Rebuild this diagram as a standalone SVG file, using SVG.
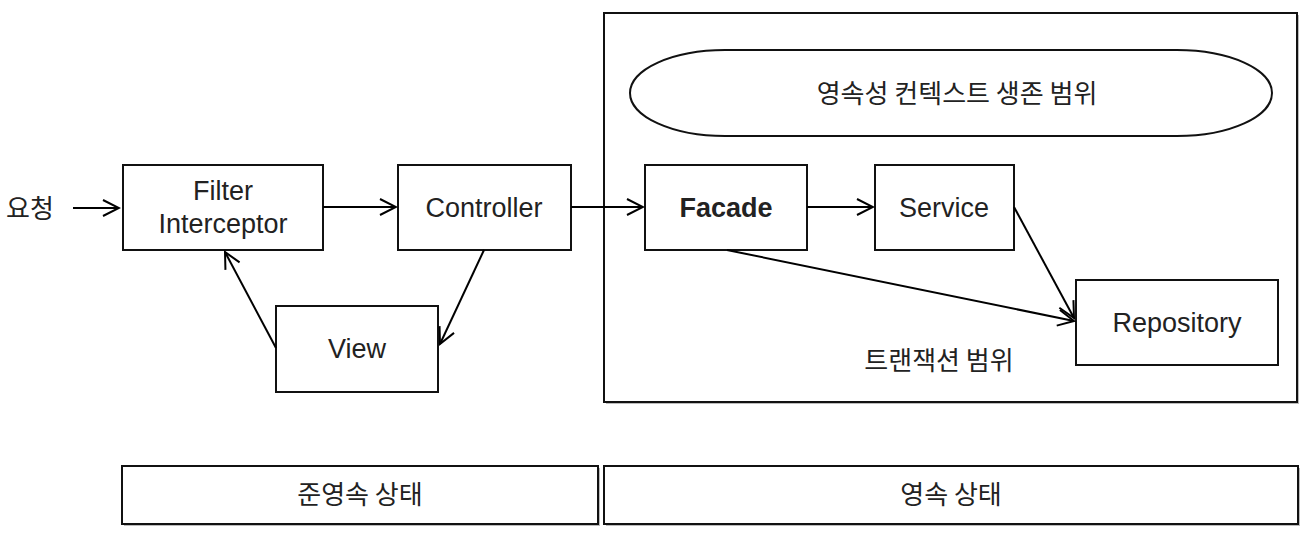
<svg xmlns="http://www.w3.org/2000/svg" width="1308" height="534" viewBox="0 0 1308 534">
<defs>
<marker id="arr" viewBox="0 0 20 20" refX="18" refY="10" markerWidth="20" markerHeight="20" markerUnits="userSpaceOnUse" orient="auto">
<path d="M2,2 L18,10 L2,18" fill="none" stroke="#000" stroke-width="2"/>
</marker>
</defs>
<style>
.box{fill:#fff;stroke:#111;stroke-width:2}
.t{font-family:"Noto Sans CJK KR","Noto Sans",sans-serif;font-size:26px;fill:#222;text-anchor:middle}
.e{font-family:"Liberation Sans",Arial,sans-serif;font-size:27px;fill:#222;text-anchor:middle}
.c{stroke:#000;stroke-width:2;fill:none;marker-end:url(#arr)}
</style>
<rect width="1308" height="534" fill="#fff"/>
<g id="scope">
<rect x="606" y="15" width="693" height="389" fill="#bbb"/>
<rect class="box" x="604" y="13" width="693" height="389"/>
</g>
<g id="context">
<rect class="box" x="630" y="50" width="642" height="86" rx="95" ry="43"/>
<text class="t" x="957" y="103">영속성 컨텍스트 생존 범위</text>
</g>
<g id="request"><text class="t" x="30" y="218">요청</text></g>
<g id="filter">
<rect class="box" x="123" y="165" width="200" height="85"/>
<text class="e" x="223" y="200">Filter</text>
<text class="e" x="223" y="233">Interceptor</text>
</g>
<g id="controller">
<rect class="box" x="398" y="165" width="173" height="85"/>
<text class="e" x="484" y="217">Controller</text>
</g>
<g id="view">
<rect class="box" x="276" y="306" width="162" height="86"/>
<text class="e" x="357" y="358">View</text>
</g>
<g id="facade">
<rect class="box" x="645" y="165" width="162" height="85"/>
<text class="e" x="726" y="217" font-weight="bold">Facade</text>
</g>
<g id="service">
<rect class="box" x="875" y="165" width="139" height="85"/>
<text class="e" x="944" y="217">Service</text>
</g>
<g id="repository">
<rect class="box" x="1076" y="280" width="202" height="85"/>
<text class="e" x="1177" y="332">Repository</text>
</g>
<g id="txlabel"><text class="t" x="939" y="370">트랜잭션 범위</text></g>
<g id="detached">
<rect x="124" y="468" width="476" height="58" fill="#bbb"/>
<rect class="box" x="122" y="466" width="476" height="58"/>
<text class="t" x="360" y="504">준영속 상태</text>
</g>
<g id="managed">
<rect x="606" y="468" width="694" height="58" fill="#bbb"/>
<rect class="box" x="604" y="466" width="694" height="58"/>
<text class="t" x="951" y="504">영속 상태</text>
</g>
<g id="connectors">
<line class="c" x1="73" y1="208" x2="119" y2="208"/>
<line class="c" x1="323" y1="207" x2="396" y2="207"/>
<line class="c" x1="571" y1="207" x2="643" y2="207"/>
<line class="c" x1="807" y1="207" x2="873" y2="207"/>
<line class="c" x1="1014" y1="207" x2="1074" y2="318"/>
<line class="c" x1="727" y1="250" x2="1074" y2="321"/>
<line class="c" x1="484" y1="250" x2="440" y2="344"/>
<line class="c" x1="276" y1="348" x2="225" y2="252"/>
</g>
</svg>
